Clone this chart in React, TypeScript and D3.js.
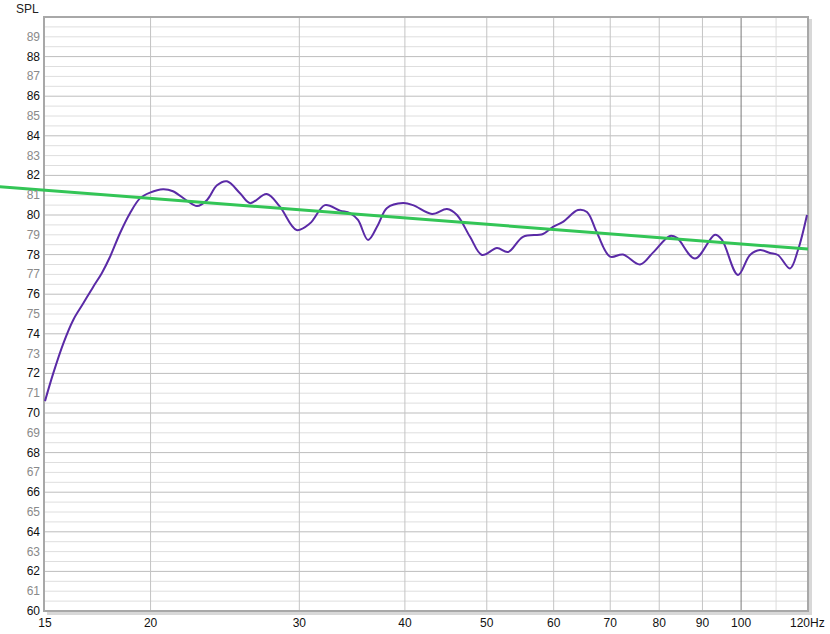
import React from "react";
import * as d3 from "d3";

const freqs = [15.0, 15.34, 15.77, 16.2, 16.65, 17.11, 17.51, 17.91, 18.4, 18.91, 19.43, 19.97, 20.69, 21.26, 22.09, 22.7, 23.33, 23.97, 24.63, 25.52, 26.23, 27.45, 28.45, 29.78, 30.89, 32.17, 33.52, 34.44, 35.2, 36.18, 37.17, 38.1, 39.8, 40.89, 43.07, 44.87, 46.1, 47.77, 49.36, 51.41, 52.98, 55.19, 58.28, 59.89, 61.54, 64.11, 65.7, 67.52, 69.96, 72.48, 75.92, 78.65, 82.38, 83.97, 88.19, 93.13, 94.92, 99.15, 102.45, 105.28, 108.19, 110.57, 114.25, 116.77, 119.67];
const spl = [70.6, 72.0, 73.52, 74.7, 75.54, 76.38, 77.06, 77.89, 79.08, 80.09, 80.84, 81.13, 81.3, 81.2, 80.72, 80.45, 80.76, 81.5, 81.7, 81.1, 80.6, 81.06, 80.42, 79.24, 79.58, 80.5, 80.22, 80.1, 79.75, 78.74, 79.5, 80.35, 80.6, 80.5, 80.05, 80.3, 80.0, 78.9, 77.98, 78.33, 78.13, 78.9, 79.04, 79.4, 79.65, 80.25, 80.15, 79.1, 77.9, 78.0, 77.5, 78.1, 78.94, 78.84, 77.8, 79.0, 78.74, 76.97, 77.98, 78.23, 78.08, 77.98, 77.3, 78.23, 80.0];
const targetFreqs = [13.1, 120];
const targetSpl = [81.45, 78.28];
const xTicks = [15, 20, 30, 40, 50, 60, 70, 80, 90, 100, 120];
const xGrid = [20, 30, 40, 50, 60, 70, 80, 90, 100, 110];
const yTicks = d3.range(60, 90, 1);

export default function App() {
  const W = 830, H = 634;
  const left = 45, right = 808, top = 17, bottom = 611;
  const x = d3.scaleLog().domain([15, 120]).range([left, right]);
  const y = d3.scaleLinear().domain([60, 90]).range([bottom, top]);
  const halfLines = d3.range(60.5, 90, 0.5);
  const line = d3.line<number>().x((_, i) => x(freqs[i])).y((d) => y(d)).curve(d3.curveCatmullRom.alpha(0.5));
  const tline = d3.line<number>().x((_, i) => x(targetFreqs[i])).y((d) => y(d));
  const font = "Arial, 'Liberation Sans', sans-serif";
  return (
    <svg width={W} height={H} style={{ position: "absolute", left: 0, top: 0, background: "#fff" }}>
      <rect x={0} y={0} width={W} height={H} fill="#fff" />
      <rect x={left + 2} y={top + 2} width={right - left + 2} height={bottom - top + 2} fill="#d8d8d8" />
      <rect x={left} y={top} width={right - left} height={bottom - top} fill="#fff" />
      {halfLines.map((v) => (
        <line key={"h" + v} x1={left} x2={right} y1={y(v)} y2={y(v)}
          stroke={Math.abs(v % 2) < 1e-6 ? "#bdbdbd" : "#dedede"} strokeWidth={1} />
      ))}
      {xGrid.map((f) => (
        <line key={"v" + f} x1={x(f)} x2={x(f)} y1={top} y2={bottom}
          stroke={f === 100 ? "#7a7a7a" : f === 110 ? "#dcdcdc" : "#c4c4c4"} strokeWidth={1} />
      ))}
      <rect x={left - 1} y={top} width={right - left + 1} height={bottom - top} fill="none" stroke="#a8a8a8" strokeWidth={2} />
      <path d={line(spl) || ""} fill="none" stroke="#5a2aa6" strokeWidth={2} />
      <path d={tline(targetSpl) || ""} fill="none" stroke="#33c556" strokeWidth={3} />
      <text x={16} y={13} fontFamily={font} fontSize={12} fill="#222">SPL</text>
      {yTicks.map((v) => (
        <text key={"yt" + v} x={40} y={y(v) + 4} textAnchor="end" fontFamily={font} fontSize={12}
          fill={v % 2 === 0 ? "#111" : "#8a8a8a"}>{v}</text>
      ))}
      {xTicks.map((f) => (
        <text key={"xt" + f} x={f === 120 ? x(f) - 18 : x(f)} y={627} textAnchor={f === 120 ? "start" : "middle"}
          fontFamily={font} fontSize={12} fill="#111">{f === 120 ? "120Hz" : f}</text>
      ))}
    </svg>
  );
}
